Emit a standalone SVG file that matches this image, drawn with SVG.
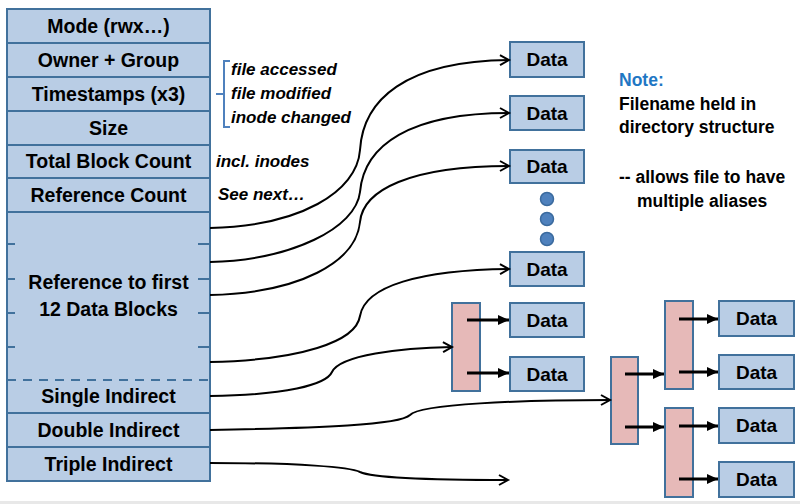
<svg xmlns="http://www.w3.org/2000/svg" width="800" height="504" viewBox="0 0 800 504">
<style>
.cell{fill:#b9cde5;stroke:#41719c;stroke-width:2}
.pink{fill:#e6b9b8;stroke:#41719c;stroke-width:2}
.t{font-family:"Liberation Sans",Arial,sans-serif;font-weight:bold;font-size:19.5px;fill:#000;text-anchor:middle}
.d{font-family:"Liberation Sans",Arial,sans-serif;font-weight:bold;font-size:19px;fill:#000;text-anchor:middle}
.i{font-family:"Liberation Sans",Arial,sans-serif;font-weight:bold;font-style:italic;font-size:17px;fill:#000}
.n{font-family:"Liberation Sans",Arial,sans-serif;font-weight:bold;font-size:17.5px;fill:#000}
.c{fill:none;stroke:#000;stroke-width:2;marker-end:url(#open)}
.s{fill:none;stroke:#000;stroke-width:3;marker-end:url(#solid)}
.tick{stroke:#41719c;stroke-width:2}
</style>
<defs>
<marker id="open" markerUnits="userSpaceOnUse" markerWidth="14" markerHeight="14" refX="11" refY="6" orient="auto" viewBox="0 0 14 12">
<path d="M2,1 L11,6 L2,11" fill="none" stroke="#000" stroke-width="2"/>
</marker>
<marker id="solid" markerUnits="userSpaceOnUse" markerWidth="12" markerHeight="12" refX="11" refY="5" orient="auto" viewBox="0 0 12 10">
<path d="M0,0 L11,5 L0,10 Z" fill="#000"/>
</marker>
</defs>
<rect x="0" y="0" width="800" height="504" fill="#fff"/>
<rect x="0" y="501" width="800" height="3" fill="#e8e8e8"/>

<g id="inode">
<rect class="cell" x="7" y="9" width="203" height="34"/>
<rect class="cell" x="7" y="43" width="203" height="34"/>
<rect class="cell" x="7" y="77" width="203" height="34"/>
<rect class="cell" x="7" y="111" width="203" height="34"/>
<rect class="cell" x="7" y="145" width="203" height="33"/>
<rect class="cell" x="7" y="178" width="203" height="34"/>
<rect class="cell" x="7" y="212" width="203" height="201"/>
<rect class="cell" x="7" y="413" width="203" height="34"/>
<rect class="cell" x="7" y="447" width="203" height="34"/>
<line x1="7" y1="380" x2="210" y2="380" stroke="#41719c" stroke-width="2" stroke-dasharray="9 7"/>
<line class="tick" x1="7" y1="244" x2="15" y2="244"/><line class="tick" x1="198" y1="244" x2="210" y2="244"/>
<line class="tick" x1="7" y1="279" x2="15" y2="279"/><line class="tick" x1="198" y1="279" x2="210" y2="279"/>
<line class="tick" x1="7" y1="313" x2="15" y2="313"/><line class="tick" x1="198" y1="313" x2="210" y2="313"/>
<line class="tick" x1="7" y1="347" x2="15" y2="347"/><line class="tick" x1="198" y1="347" x2="210" y2="347"/>
<text class="t" x="108.5" y="33">Mode (rwx…)</text>
<text class="t" x="108.5" y="67">Owner + Group</text>
<text class="t" x="108.5" y="101">Timestamps (x3)</text>
<text class="t" x="108.5" y="135">Size</text>
<text class="t" x="108.5" y="168">Total Block Count</text>
<text class="t" x="108.5" y="202">Reference Count</text>
<text class="t" x="108.5" y="289">Reference to first</text>
<text class="t" x="108.5" y="316">12 Data Blocks</text>
<text class="t" x="108.5" y="403">Single Indirect</text>
<text class="t" x="108.5" y="437">Double Indirect</text>
<text class="t" x="108.5" y="471">Triple Indirect</text>
</g>

<g id="annotations">
<path d="M230,61 L224,61 L224,127 L230,127 M224,94 L216,94" fill="none" stroke="#4f81bd" stroke-width="2"/>
<text class="i" x="231" y="75">file accessed</text>
<text class="i" x="231" y="99">file modified</text>
<text class="i" x="231" y="123">inode changed</text>
<text class="i" x="216" y="167">incl. inodes</text>
<text class="i" x="218" y="200">See next…</text>
</g>

<g id="note">
<text class="n" x="619" y="86" style="fill:#1f77c4">Note:</text>
<text class="n" x="619" y="110">Filename held in</text>
<text class="n" x="619" y="133">directory structure</text>
<text class="n" x="619" y="183">-- allows file to have</text>
<text class="n" x="637" y="207">multiple aliases</text>
</g>

<g id="data1"><rect class="cell" x="510" y="42" width="74" height="35"/><text class="d" x="547" y="66">Data</text></g>
<g id="data2"><rect class="cell" x="510" y="96" width="74" height="34"/><text class="d" x="547" y="120">Data</text></g>
<g id="data3"><rect class="cell" x="510" y="150" width="74" height="33"/><text class="d" x="547" y="173">Data</text></g>
<g id="ellipsis">
<circle cx="547" cy="199" r="6.5" fill="#4f81bd" stroke="#3a6a9e" stroke-width="1.5"/>
<circle cx="547" cy="219" r="6.5" fill="#4f81bd" stroke="#3a6a9e" stroke-width="1.5"/>
<circle cx="547" cy="239" r="6.5" fill="#4f81bd" stroke="#3a6a9e" stroke-width="1.5"/>
</g>
<g id="data4"><rect class="cell" x="510" y="252" width="74" height="34"/><text class="d" x="547" y="276">Data</text></g>
<g id="data5"><rect class="cell" x="510" y="303" width="74" height="34"/><text class="d" x="547" y="327">Data</text></g>
<g id="data6"><rect class="cell" x="510" y="357" width="74" height="34"/><text class="d" x="547" y="381">Data</text></g>

<g id="indirect1"><rect class="pink" x="452" y="303" width="28" height="88"/></g>
<g id="dindirect"><rect class="pink" x="611" y="357" width="27" height="87"/></g>
<g id="dindirect2a"><rect class="pink" x="665" y="301" width="28" height="88"/></g>
<g id="dindirect2b"><rect class="pink" x="665" y="408" width="28" height="89"/></g>

<g id="data7"><rect class="cell" x="719" y="301" width="75" height="35"/><text class="d" x="756.5" y="325">Data</text></g>
<g id="data8"><rect class="cell" x="719" y="355" width="75" height="34"/><text class="d" x="756.5" y="379">Data</text></g>
<g id="data9"><rect class="cell" x="719" y="408" width="75" height="35"/><text class="d" x="756.5" y="432">Data</text></g>
<g id="data10"><rect class="cell" x="719" y="462" width="75" height="35"/><text class="d" x="756.5" y="486">Data</text></g>

<g id="connectors">
<path class="c" d="M210,228 C300,226 357,192 360,150 C363,100 405,61 509,60"/>
<path class="c" d="M210,262 C292,260 356,228 360,192 C364,145 410,113 509,113"/>
<path class="c" d="M210,295 C300,293 356,262 360,222 C363,190 410,166 509,166"/>
<path class="c" d="M210,362 C300,360 356,342 360,316 C365,286 420,270 509,269"/>
<path class="c" d="M210,396 C285,395 326,385 332,372 C340,355 400,348 452,347"/>
<path class="c" d="M210,430 C320,428 400,425 410,415 C420,404 520,400 610,400"/>
<path class="c" d="M210,463 C300,463 350,467 360,472 C375,479 450,480 508,480"/>
<path class="s" d="M467,320 L509,320"/>
<path class="s" d="M467,373 L509,373"/>
<path class="s" d="M625,374 L664,374"/>
<path class="s" d="M625,427 L664,427"/>
<path class="s" d="M679,319 L718,319"/>
<path class="s" d="M679,372 L718,372"/>
<path class="s" d="M679,426 L718,426"/>
<path class="s" d="M679,479 L718,479"/>
</g>
</svg>
